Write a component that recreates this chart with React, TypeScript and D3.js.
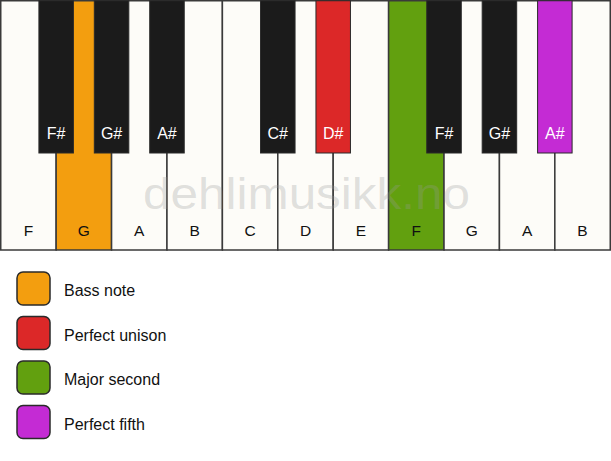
import React from "react";
import * as d3 from "d3";

const whiteNotes = ["F", "G", "A", "B", "C", "D", "E", "F", "G", "A", "B"];
const blackNotes = ["F#", "G#", "A#", "C#", "D#", "F#", "G#", "A#"];
// index of the white key each black key follows
const blackAfter = [0, 1, 2, 4, 5, 7, 8, 9];
const whiteHighlights: [number, string][] = [
  [1, "Bass note"],
  [7, "Major second"],
];
const blackHighlights: [number, string][] = [
  [4, "Perfect unison"],
  [7, "Perfect fifth"],
];
const legendLabels = ["Bass note", "Perfect unison", "Major second", "Perfect fifth"];
const legendColors = ["#f39e0f", "#dc2828", "#62a00f", "#c42bd4"];
const watermark = "dehlimusikk.no";

const W = 611;
const H = 461;
const KEY_H = 250;
const BLACK_H = 153;
const BLACK_W = 34.5;
const FONT = "'Liberation Sans', Arial, Helvetica, sans-serif";

export default function App() {
  const x = d3
    .scaleBand<number>()
    .domain(d3.range(whiteNotes.length))
    .range([0.75, W - 0.75])
    .padding(0);
  const color = d3.scaleOrdinal<string, string>().domain(legendLabels).range(legendColors);
  const whiteFill = new Map(whiteHighlights.map(([i, c]) => [i, color(c)]));
  const blackFill = new Map(blackHighlights.map(([i, c]) => [i, color(c)]));
  const legendY = d3
    .scalePoint<string>()
    .domain(legendLabels)
    .range([272, 272 + 44.5 * (legendLabels.length - 1)]);
  const bw = x.bandwidth();

  return (
    <div style={{ position: "fixed", left: 0, top: 0 }}>
      <svg width={W} height={H} style={{ display: "block", background: "#fff" }}>
        <g>
          {whiteNotes.map((n, i) => (
            <rect
              key={"w" + i}
              x={x(i)}
              y={0.75}
              width={bw}
              height={KEY_H - 0.75}
              fill={whiteFill.get(i) ?? "#fdfcf8"}
              stroke="#3a3a3a"
              strokeWidth={1.5}
            />
          ))}
          {whiteNotes.map((n, i) => (
            <text
              key={"wt" + i}
              x={(x(i) as number) + bw / 2}
              y={236}
              textAnchor="middle"
              fontFamily={FONT}
              fontSize={15.5}
              fill="#111"
            >
              {n}
            </text>
          ))}
          {blackNotes.map((n, j) => {
            const cx = (x(blackAfter[j]) as number) + bw;
            return (
              <g key={"b" + j}>
                <rect
                  x={cx - BLACK_W / 2}
                  y={0.75}
                  width={BLACK_W}
                  height={BLACK_H - 0.75}
                  fill={blackFill.get(j) ?? "#1b1b1b"}
                  stroke="#2a2a2a"
                  strokeWidth={1}
                />
                <text
                  x={cx}
                  y={139}
                  textAnchor="middle"
                  fontFamily={FONT}
                  fontSize={16}
                  fill="#fff"
                >
                  {n}
                </text>
              </g>
            );
          })}
          <text
            x={143}
            y={208.5}
            textLength={327}
            lengthAdjust="spacingAndGlyphs"
            fontFamily={FONT}
            fontSize={43.5}
            fill="#999"
            fillOpacity={0.3}
          >
            {watermark}
          </text>
        </g>
        <g>
          {legendLabels.map((l) => (
            <g key={l}>
              <rect
                x={17}
                y={legendY(l)}
                width={33}
                height={33}
                rx={6}
                ry={6}
                fill={color(l)}
                stroke="#2a2a2a"
                strokeWidth={1.5}
              />
              <text
                x={64}
                y={(legendY(l) as number) + 24}
                fontFamily={FONT}
                fontSize={16}
                fill="#111"
              >
                {l}
              </text>
            </g>
          ))}
        </g>
      </svg>
    </div>
  );
}
